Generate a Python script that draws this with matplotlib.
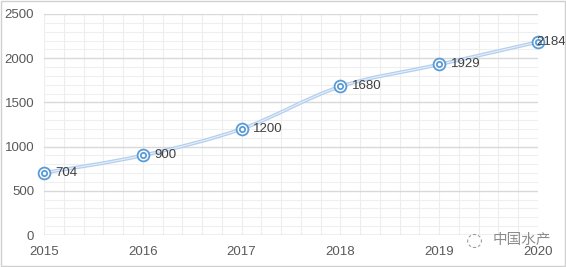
import matplotlib
import matplotlib.pyplot as plt
from matplotlib.path import Path
from matplotlib.patches import PathPatch, Rectangle
from matplotlib.ticker import MultipleLocator

matplotlib.use("Agg")

years = [2015, 2016, 2017, 2018, 2019, 2020]
values = [704, 900, 1200, 1680, 1929, 2184]
value_labels = ["704", "900", "1200", "1680", "1929", "2184"]

plt.rcParams["font.family"] = ["Liberation Sans", "Noto Sans CJK SC", "DejaVu Sans"]

fig = plt.figure(figsize=(5.66, 2.67), dpi=100)
ax = fig.add_axes([44 / 566, 32 / 267, 494 / 566, 221 / 267])

# light border round the whole picture
fig.patches.append(Rectangle((0.002, 0.004), 0.996, 0.992, transform=fig.transFigure,
                             fill=False, edgecolor="#d0d0d0", linewidth=1.0))

ax.set_xlim(2015, 2020)
ax.set_ylim(0, 2500)
ax.xaxis.set_major_locator(MultipleLocator(1))
ax.xaxis.set_minor_locator(MultipleLocator(0.2))
ax.yaxis.set_major_locator(MultipleLocator(500))
ax.yaxis.set_minor_locator(MultipleLocator(100))
ax.grid(which="major", axis="y", color="#d9d9d9", linewidth=1.0)
ax.grid(which="minor", axis="y", color="#efefef", linewidth=0.8)
ax.grid(which="both", axis="x", color="#ededed", linewidth=0.8)
ax.set_axisbelow(True)
for s in ax.spines.values():
    s.set_visible(False)
ax.tick_params(which="both", length=0, labelsize=9.5, colors="#595959")
ax.tick_params(axis="x", pad=8)
ax.tick_params(axis="y", pad=7)
ax.axhline(0, color="#d0d0d0", linewidth=1.0, zorder=1)

# smoothed line, Excel style (Catmull-Rom through the points)
pts = list(zip(years, values))
verts = [pts[0]]
codes = [Path.MOVETO]
t = 1 / 6
for i in range(len(pts) - 1):
    p0 = pts[i - 1] if i > 0 else pts[i]
    p1 = pts[i]
    p2 = pts[i + 1]
    p3 = pts[i + 2] if i + 2 < len(pts) else pts[i + 1]
    c1 = (p1[0] + (p2[0] - p0[0]) * t, p1[1] + (p2[1] - p0[1]) * t)
    c2 = (p2[0] - (p3[0] - p1[0]) * t, p2[1] - (p3[1] - p1[1]) * t)
    verts += [c1, c2, p2]
    codes += [Path.CURVE4] * 3
path = Path(verts, codes)
ax.add_patch(PathPatch(path, fill=False, edgecolor="#b3cfee", linewidth=2.6, zorder=3))
ax.add_patch(PathPatch(path, fill=False, edgecolor="#e6effa", linewidth=0.8, zorder=3))

ax.plot(years, values, linestyle="none", marker="o", markersize=8.5,
        markerfacecolor="white", markeredgecolor="#5b9bd5", markeredgewidth=1.3,
        zorder=4, clip_on=False)
ax.plot(years, values, linestyle="none", marker="o", markersize=3.8,
        markerfacecolor="none", markeredgecolor="#5b9bd5", markeredgewidth=1.3,
        zorder=5, clip_on=False)

for i, (x, y, lab) in enumerate(zip(years, values, value_labels)):
    dx = 8.5 if i < len(years) - 1 else -1
    ax.annotate(lab, (x, y), xytext=(dx, 0), textcoords="offset points",
                ha="left", va="center", fontsize=9.5, color="#404040", zorder=6,
                annotation_clip=False)

# watermark
fig.text(0.870, 0.100, "中国水产", fontsize=10.5, color="#8c8c8c", ha="left", va="center",
         family=["Noto Sans CJK SC", "DejaVu Sans"])
fig.text(0.838, 0.100, "\u25CC", fontsize=14, color="#9a9a9a", ha="center", va="center",
         family=["DejaVu Sans"])

fig.savefig("out.png", dpi=100)
